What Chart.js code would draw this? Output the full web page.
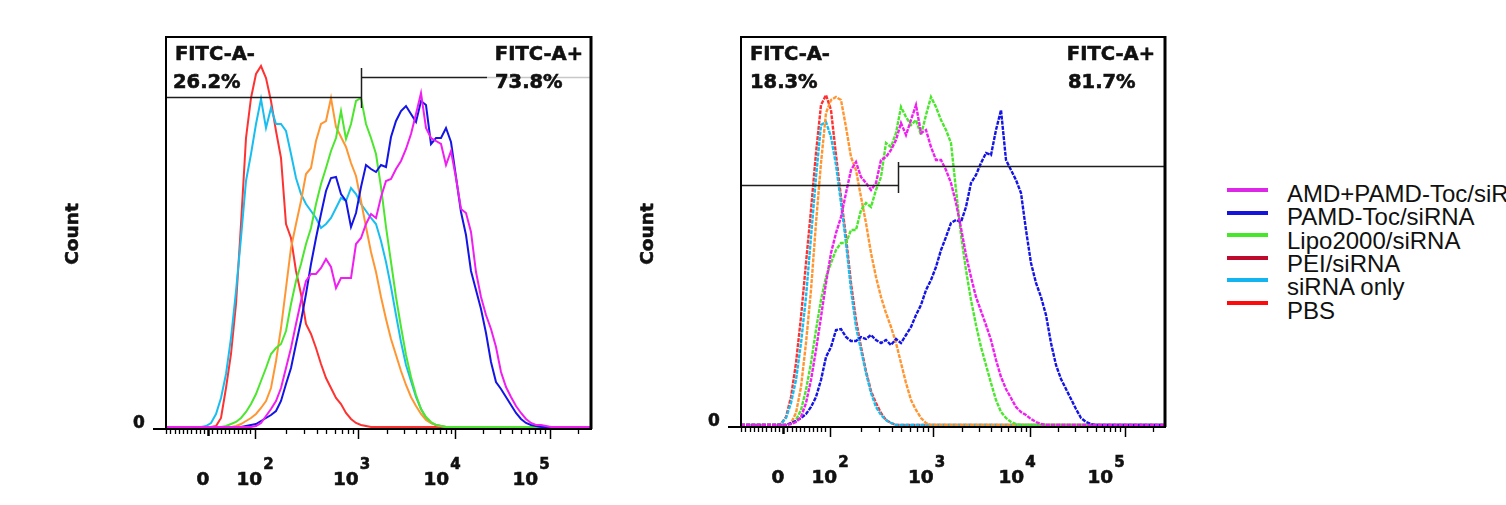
<!DOCTYPE html>
<html>
<head>
<meta charset="utf-8">
<title>FITC uptake histograms</title>
<script src="https://cdn.jsdelivr.net/npm/chart.js@4.4.1/dist/chart.umd.min.js"></script>
<style>
  html, body { margin: 0; padding: 0; background: #fff; }
  body { position: relative; width: 1506px; height: 505px; overflow: hidden; }
  canvas { position: absolute; top: 0; }
  #left { left: 0; }
  #right { left: 620px; }
  .key-line { position: absolute; left: 1227px; width: 41px; height: 4px; }
  .key-text { position: absolute; left: 1287px; font: 24px "Liberation Sans", Arial, sans-serif; line-height: 24px; white-space: nowrap; color: #111; }
</style>
</head>
<body>
<canvas id="left" width="620" height="505"></canvas>
<canvas id="right" width="600" height="505"></canvas>
<div id="key"></div>
<script>
// series, top of the legend first
const seriesNames = ["AMD+PAMD-Toc/siRNA", "PAMD-Toc/siRNA", "Lipo2000/siRNA", "PEI/siRNA", "siRNA only", "PBS"];
const lineColors = ["#f01ef0", "#1414e6", "#4be62d", "#ff9632", "#19bef0", "#ff3232"];
const keyColors = ["#dc28e6", "#1414dc", "#46e628", "#be0a2d", "#14b4f0", "#ff0a0a"];

// display channel (FITC-A, biexponential display)
const channels = [0, 5, 10, 15, 20, 25, 30, 35, 40, 45, 50, 55, 60, 65, 70, 75, 80, 85, 90, 95,
  100, 105, 110, 115, 120, 125, 130, 135, 140, 145, 150, 155, 160, 165, 170, 175, 180, 185, 190, 195,
  200, 205, 210, 215, 220, 225, 230, 235, 240, 245, 250, 255, 260, 265, 270, 275, 280, 285, 290, 295,
  300, 305, 310, 315, 320, 325, 330, 335, 340, 345, 350, 355, 360, 365, 370, 375, 380, 385, 390, 395,
  400, 405, 410, 415, 420, 425];

// left panel counts
const leftAmd = [0, 0, 0, 0, 0, 0, 0, 0, 0, 0, 0, 0, 0, 0, 0, 0, 0, 0,
  1, 4, 11, 18, 26, 39, 59, 79, 103, 126, 146, 153, 153, 159, 168, 160, 139, 149, 149, 149,
  183, 189, 203, 213, 209, 230, 246, 248, 258, 266, 278, 293, 313, 334, 299, 289, 286, 283, 262, 276,
  249, 218, 214, 195, 155, 130, 112, 98, 80, 55, 40, 30, 21, 14, 8, 4, 2, 2, 1,
  0, 0, 0, 0, 0, 0, 0, 0, 0];
const leftPamd = [0, 0, 0, 0, 0, 0, 0, 0, 0, 0, 0, 0, 0, 0, 0, 0,
  1, 2, 3, 6, 9, 12, 16, 26, 43, 59, 83, 106, 133, 163, 189, 213, 236, 249, 250, 233,
  226, 200, 214, 240, 262, 258, 255, 262, 260, 290, 306, 316, 321, 313, 305, 326, 322, 283, 289, 289,
  299, 285, 250, 215, 192, 156, 137, 118, 94, 65, 45, 38, 30, 22, 14, 8, 4, 2, 1,
  0, 0, 0, 0, 0, 0, 0, 0, 0, 0, 0];
const leftLipo = [0, 0, 0, 0, 0, 0, 0, 0, 0, 0, 0, 0,
  1, 3, 5, 9, 15, 23, 33, 46, 59, 73, 79, 83, 96, 123, 146, 163, 183, 199, 223, 243,
  259, 276, 289, 316, 288, 303, 326, 329, 303, 289, 273, 240, 200, 165, 130, 100, 72, 50, 32, 18,
  10, 5, 2, 1,
  0, 0, 0, 0, 0, 0, 0, 0, 0, 0, 0, 0, 0, 0, 0, 0, 0, 0, 0, 0, 0, 0, 0, 0, 0, 0, 0, 0, 0, 0];
const leftPei = [0, 0, 0, 0, 0, 0, 0, 0, 0, 0, 0, 0, 0, 0,
  1, 3, 6, 9, 13, 19, 26, 39, 66, 99, 139, 179, 203, 226, 253, 259, 286, 303, 306, 329,
  300, 290, 280, 264, 251, 226, 200, 175, 155, 130, 108, 88, 72, 56, 42, 30, 21, 13, 7, 4, 2, 1,
  0, 0, 0, 0, 0, 0, 0, 0, 0, 0, 0, 0, 0, 0, 0, 0, 0, 0, 0, 0, 0, 0, 0, 0, 0, 0, 0, 0, 0, 0];
const leftSirna = [0, 0, 0, 0, 0, 0, 0, 0,
  1, 4, 13, 29, 53, 89, 136, 189, 246, 273, 303, 328, 299, 319, 303, 303, 296, 273, 249, 233,
  223, 216, 209, 199, 203, 209, 219, 229, 226, 239, 233, 223, 216, 209, 203, 186, 165, 140, 112, 85,
  62, 46, 30, 18, 9, 4, 2, 1,
  0, 0, 0, 0, 0, 0, 0, 0, 0, 0, 0, 0, 0, 0, 0, 0, 0, 0, 0, 0, 0, 0, 0, 0, 0, 0, 0, 0, 0, 0];
const leftPbs = [0, 0, 0, 0, 0, 0, 0, 0, 0, 0,
  1, 9, 39, 73, 123, 203, 289, 329, 353, 361, 349, 326, 296, 269, 203, 189, 156, 133, 103, 93,
  79, 63, 49, 39, 29, 23, 14, 8, 4, 2, 1,
  0, 0, 0, 0, 0, 0, 0, 0, 0, 0, 0, 0, 0, 0, 0, 0, 0, 0, 0, 0, 0, 0, 0, 0, 0,
  0, 0, 0, 0, 0, 0, 0, 0, 0, 0, 0, 0, 0, 0, 0, 0, 0, 0, 0, 0];

// right panel counts
const rightAmd = [0, 0, 0, 0, 0, 0, 0, 0, 0, 0,
  1, 3, 8, 22, 45, 75, 108, 142, 172, 192, 208, 232, 255, 263, 248, 242, 235, 242, 265, 268,
  275, 285, 302, 290, 305, 320, 292, 295, 278, 265, 265, 255, 242, 222, 197, 170, 148, 128, 114, 100,
  85, 65, 48, 36, 27, 18, 13, 10, 6, 3, 1,
  0, 0, 0, 0, 0, 0, 0, 0, 0, 0, 0, 0, 0, 0, 0, 0, 0, 0, 0, 0, 0, 0, 0, 0, 0];
const rightPamd = [0, 0, 0, 0, 0, 0, 0, 0, 0, 0,
  2, 4, 7, 11, 18, 28, 45, 68, 78, 95, 96, 88, 84, 84, 88, 86, 90, 85, 82, 85,
  80, 86, 82, 90, 98, 110, 120, 135, 145, 158, 175, 188, 202, 205, 203, 218, 242, 250, 262, 272,
  270, 295, 315, 265, 255, 245, 232, 195, 162, 142, 128, 110, 82, 60, 46, 36, 26, 16, 7, 3, 1,
  0, 0, 0, 0, 0, 0, 0, 0, 0, 0, 0, 0, 0, 0, 0];
const rightLipo = [0, 0, 0, 0, 0, 0, 0, 0, 0, 0,
  1, 5, 15, 35, 62, 95, 125, 148, 162, 175, 182, 182, 195, 195, 215, 222, 218, 235, 248, 282,
  278, 292, 318, 308, 300, 305, 290, 310, 328, 318, 305, 295, 282, 235, 190, 155, 125, 100, 78, 60,
  42, 25, 13, 7, 3, 1,
  0, 0, 0, 0, 0, 0, 0, 0, 0, 0, 0, 0, 0, 0, 0, 0, 0, 0, 0, 0, 0, 0, 0, 0, 0, 0, 0, 0, 0, 0];
const rightPei = [0, 0, 0, 0, 0, 0, 0, 0, 0, 0,
  2, 12, 38, 82, 135, 202, 262, 312, 325, 328, 325, 298, 268, 255, 228, 202, 172, 148, 128, 112,
  98, 82, 62, 42, 25, 15, 7, 2,
  0, 0, 0, 0, 0, 0, 0, 0, 0, 0, 0, 0, 0, 0, 0, 0, 0, 0, 0, 0, 0, 0, 0, 0,
  0, 0, 0, 0, 0, 0, 0, 0, 0, 0, 0, 0, 0, 0, 0, 0, 0, 0, 0, 0, 0, 0, 0, 0];
const rightSirna = [0, 0, 0, 0, 0, 0, 0, 0,
  1, 7, 22, 45, 82, 128, 188, 248, 300, 303, 288, 260, 222, 182, 135, 98, 75, 52, 32, 18,
  10, 5, 2,
  0, 0, 0, 0, 0, 0, 0, 0, 0, 0, 0, 0, 0, 0, 0, 0, 0, 0, 0, 0, 0, 0, 0, 0, 0, 0, 0, 0,
  0, 0, 0, 0, 0, 0, 0, 0, 0, 0, 0, 0, 0, 0, 0, 0, 0, 0, 0, 0, 0, 0, 0, 0, 0, 0, 0];
const rightPbs = [0, 0, 0, 0, 0, 0, 0, 0,
  1, 8, 28, 62, 108, 162, 215, 272, 320, 330, 315, 270, 228, 188, 142, 105, 78, 54, 34, 22,
  12, 5, 2,
  0, 0, 0, 0, 0, 0, 0, 0, 0, 0, 0, 0, 0, 0, 0, 0, 0, 0, 0, 0, 0, 0, 0, 0, 0, 0, 0, 0,
  0, 0, 0, 0, 0, 0, 0, 0, 0, 0, 0, 0, 0, 0, 0, 0, 0, 0, 0, 0, 0, 0, 0, 0, 0, 0, 0];

// gate percentages: FITC-A-, FITC-A+
const leftPercents = ["26.2%", "73.8%"];
const rightPercents = ["18.3%", "81.7%"];

// x axis: "0", 10^2 .. 10^5
const tickValues = [42, 88.5, 191.5, 289, 383.5];
const tickBases = ["0", "10", "10", "10", "10"];
const tickExponents = ["", "2", "3", "4", "5"];
const labelCentres = [37, 89, 185.5, 276, 365];

const panels = {
  left: {
    xMax: 425, yMax: 390, dash: [], width: 2,
    padding: { left: 166, right: 29, top: 37, bottom: 76 },
    percents: leftPercents,
    negGate: [0, 195, 330], posGate: [195, 321, 350], gateTick: [195, 319, 359],
    fadeTo: 425,
    negPctX: 7, posPctX: 96, plusRight: 8,
    series: [leftAmd, leftPamd, leftLipo, leftPei, leftSirna, leftPbs],
  },
  right: {
    xMax: 424, yMax: 388, dash: [4, 1.2], width: 2.4,
    padding: { left: 121, right: 55, top: 37, bottom: 78 },
    percents: rightPercents,
    negGate: [0, 157, 240], posGate: [157, 424, 259], gateTick: [157, 232, 263],
    fadeTo: null,
    negPctX: 9, posPctX: 97, plusRight: 10,
    series: [rightAmd, rightPamd, rightLipo, rightPei, rightSirna, rightPbs],
  },
};

const bold = (px) => `bold ${px}px "DejaVu Sans", Verdana, sans-serif`;

// filled + thin outline, the exported figure text is a bit heavier than plain bold
function heavyText(ctx, s, x, y) {
  ctx.fillText(s, x, y);
  ctx.strokeText(s, x, y);
}

function minorTicks(xMax) {
  const out = [];
  for (let v = tickValues[1] - 4.2; v > 0; v -= 4.2) {
    if (Math.abs(v - tickValues[0]) > 3) out.push(v);
  }
  for (let k = 1; k < tickValues.length; k++) {
    const a = tickValues[k];
    const span = k < tickValues.length - 1 ? tickValues[k + 1] - a : tickValues[k] - tickValues[k - 1];
    for (let m = 2; m <= 9; m++) {
      const v = a + span * Math.log10(m);
      if (v < xMax) out.push(v);
    }
  }
  return out;
}

const flowFrame = {
  id: "flowFrame",
  afterDatasetsDraw(chart) {
    const p = panels[chart.canvas.id];
    const { ctx, chartArea: a, scales: { x, y } } = chart;
    ctx.save();

    // gates
    ctx.strokeStyle = "#1e1e1e";
    ctx.lineWidth = 1.5;
    const hline = (x0, x1, v) => {
      const py = Math.round(y.getPixelForValue(v)) + 0.5;
      ctx.beginPath();
      ctx.moveTo(x.getPixelForValue(x0), py);
      ctx.lineTo(x.getPixelForValue(x1), py);
      ctx.stroke();
    };
    hline(...p.negGate);
    hline(...p.posGate);
    const gx = Math.round(x.getPixelForValue(p.gateTick[0])) + 0.5;
    ctx.beginPath();
    ctx.moveTo(gx, y.getPixelForValue(p.gateTick[1]));
    ctx.lineTo(gx, y.getPixelForValue(p.gateTick[2]));
    ctx.stroke();
    if (p.fadeTo) {
      ctx.strokeStyle = "#c8c8c8";
      hline(p.posGate[1], p.fadeTo, p.posGate[2]);
    }

    // gate texts
    ctx.fillStyle = "#111";
    ctx.strokeStyle = "#111";
    ctx.lineWidth = 0.6;
    ctx.font = bold(19.5);
    ctx.textBaseline = "alphabetic";
    ctx.textAlign = "left";
    heavyText(ctx, "FITC-A-", a.left + 9, a.top + 23);
    heavyText(ctx, p.percents[0], a.left + p.negPctX, a.top + 51);
    heavyText(ctx, p.percents[1], a.right - p.posPctX, a.top + 51);
    ctx.textAlign = "right";
    heavyText(ctx, "FITC-A+", a.right - p.plusRight, a.top + 23);

    // frame
    ctx.strokeStyle = "#000";
    ctx.lineWidth = 2;
    ctx.beginPath();
    ctx.moveTo(a.left, a.bottom);
    ctx.lineTo(a.left, a.top);
    ctx.lineTo(a.right, a.top);
    ctx.stroke();
    ctx.lineWidth = 3;
    ctx.beginPath();
    ctx.moveTo(a.right, a.top - 1);
    ctx.lineTo(a.right, a.bottom);
    ctx.stroke();
    ctx.lineWidth = 2;
    ctx.beginPath();
    ctx.moveTo(a.left - 13, a.bottom);
    ctx.lineTo(a.right + 1, a.bottom);
    ctx.stroke();

    // ticks
    ctx.lineWidth = 1.3;
    minorTicks(p.xMax).forEach((v) => {
      const px = Math.round(x.getPixelForValue(v)) + 0.5;
      ctx.beginPath();
      ctx.moveTo(px, a.bottom);
      ctx.lineTo(px, a.bottom + 5);
      ctx.stroke();
    });
    tickValues.forEach((v, i) => {
      const px = Math.round(x.getPixelForValue(v)) + 0.5;
      ctx.lineWidth = i === 0 ? 2.5 : 1.5;
      ctx.beginPath();
      ctx.moveTo(px, a.bottom);
      ctx.lineTo(px, a.bottom + (i === 0 ? 7 : 10));
      ctx.stroke();
    });

    // tick labels
    ctx.fillStyle = "#111";
    ctx.strokeStyle = "#111";
    ctx.lineWidth = 0.6;
    ctx.textAlign = "left";
    labelCentres.forEach((v, i) => {
      const cx = x.getPixelForValue(v);
      ctx.font = bold(18.5);
      const wb = ctx.measureText(tickBases[i]).width;
      ctx.font = bold(15);
      const we = tickExponents[i] ? ctx.measureText(tickExponents[i]).width + 1 : 0;
      const start = cx - (wb + we) / 2;
      ctx.font = bold(18.5);
      heavyText(ctx, tickBases[i], start, a.bottom + 56);
      if (we) {
        ctx.font = bold(15);
        heavyText(ctx, tickExponents[i], start + wb + 1, a.bottom + 40);
      }
    });

    // y axis
    ctx.font = bold(17);
    ctx.textAlign = "center";
    heavyText(ctx, "0", a.left - 27, a.bottom - 1);
    ctx.translate(a.left - 93, a.top + 197);
    ctx.rotate(-Math.PI / 2);
    ctx.font = bold(18.5);
    ctx.textBaseline = "middle";
    heavyText(ctx, "Count", 0, 0);

    ctx.restore();
  },
};

function histogram(id) {
  const p = panels[id];
  return new Chart(document.getElementById(id), {
    type: "line",
    data: {
      datasets: p.series.map((values, i) => ({
        label: seriesNames[i],
        data: channels.map((c, k) => ({ x: c, y: values[k] })),
        borderColor: lineColors[i],
        borderWidth: p.width,
        borderDash: p.dash,
        pointRadius: 0,
        tension: 0,
        fill: false,
      })),
    },
    options: {
      responsive: false,
      animation: false,
      devicePixelRatio: 1,
      events: [],
      layout: { padding: p.padding },
      scales: {
        x: { type: "linear", display: false, min: 0, max: p.xMax },
        y: { type: "linear", display: false, min: -2, max: p.yMax },
      },
      plugins: { legend: { display: false }, tooltip: { enabled: false } },
    },
    plugins: [flowFrame],
  });
}

histogram("left");
histogram("right");

// legend, drawn as page text to the right of the panels
const key = document.getElementById("key");
seriesNames.forEach((name, i) => {
  const line = document.createElement("div");
  line.className = "key-line";
  line.style.top = (188 + i * 22.6) + "px";
  line.style.background = keyColors[i];
  key.appendChild(line);
  const text = document.createElement("div");
  text.className = "key-text";
  text.style.top = (182 + i * 23.3) + "px";
  text.textContent = name;
  key.appendChild(text);
});
</script>
</body>
</html>
